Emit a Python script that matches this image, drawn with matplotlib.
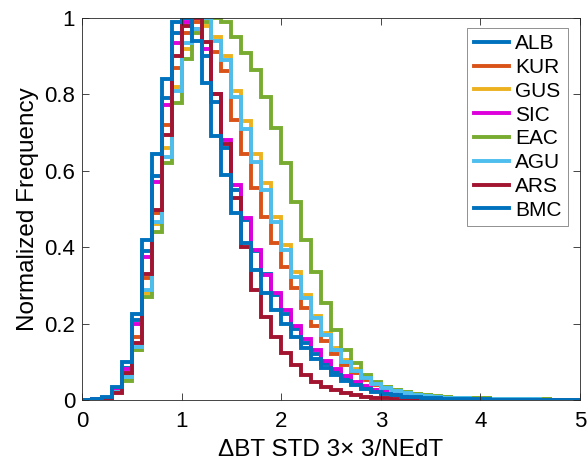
import numpy as np
import matplotlib
matplotlib.use("Agg")
import matplotlib.pyplot as plt
from matplotlib.lines import Line2D

plt.rcParams['font.family'] = ['Liberation Sans', 'DejaVu Sans']

# bin edges of the histograms (width 0.1 from 0 to 5)
edges = np.linspace(0, 5, 51)

# normalized frequency per bin
ALB = [0, 0.002, 0.006, 0.028, 0.085, 0.21, 0.39, 0.586, 0.79, 0.96,
       1.0, 0.97, 0.9, 0.78, 0.66, 0.55, 0.47, 0.39, 0.33, 0.275,
       0.225, 0.185, 0.15, 0.12, 0.095, 0.074, 0.057, 0.044, 0.033, 0.025,
       0.019, 0.014, 0.011, 0.008, 0.006, 0.005, 0.004, 0.003, 0.003, 0.002,
       0.002, 0.002, 0.001, 0.001, 0.001, 0.001, 0.001, 0.001, 0.001, 0.001]
KUR = [0, 0.001, 0.004, 0.025, 0.062, 0.165, 0.32, 0.49, 0.72, 0.87,
       0.96, 0.99, 1.0, 0.91, 0.86, 0.733, 0.645, 0.555, 0.48, 0.41,
       0.348, 0.293, 0.24, 0.195, 0.155, 0.12, 0.092, 0.07, 0.052, 0.039,
       0.029, 0.022, 0.017, 0.013, 0.01, 0.008, 0.006, 0.005, 0.004, 0.004,
       0.003, 0.003, 0.003, 0.002, 0.002, 0.002, 0.002, 0.001, 0.001, 0.001]
GUS = [0, 0.001, 0.003, 0.02, 0.058, 0.13, 0.28, 0.46, 0.66, 0.82,
       0.92, 0.97, 0.98, 0.95, 0.9, 0.81, 0.73, 0.645, 0.568, 0.48,
       0.405, 0.335, 0.275, 0.22, 0.175, 0.135, 0.105, 0.08, 0.06, 0.045,
       0.034, 0.026, 0.02, 0.015, 0.012, 0.009, 0.007, 0.006, 0.005, 0.004,
       0.004, 0.003, 0.003, 0.002, 0.002, 0.002, 0.002, 0.001, 0.001, 0.001]
SIC = [0, 0.002, 0.006, 0.03, 0.08, 0.2, 0.375, 0.571, 0.772, 0.935,
       0.99, 0.97, 0.92, 0.8, 0.68, 0.563, 0.476, 0.393, 0.327, 0.28,
       0.236, 0.195, 0.16, 0.13, 0.103, 0.08, 0.062, 0.047, 0.036, 0.027,
       0.02, 0.015, 0.011, 0.008, 0.006, 0.005, 0.004, 0.003, 0.003, 0.002,
       0.002, 0.002, 0.001, 0.001, 0.001, 0.001, 0.001, 0.001, 0.001, 0.001]
EAC = [0, 0.001, 0.003, 0.02, 0.05, 0.13, 0.27, 0.44, 0.62, 0.777,
       0.893, 0.96, 0.99, 1.0, 0.99, 0.95, 0.908, 0.864, 0.793, 0.712,
       0.62, 0.518, 0.419, 0.335, 0.254, 0.183, 0.131, 0.097, 0.065, 0.047,
       0.035, 0.027, 0.021, 0.016, 0.013, 0.01, 0.008, 0.006, 0.005, 0.004,
       0.004, 0.003, 0.003, 0.002, 0.002, 0.002, 0.002, 0.001, 0.001, 0.001]
AGU = [0, 0.001, 0.004, 0.022, 0.06, 0.14, 0.288, 0.466, 0.636, 0.81,
       0.935, 0.97, 1.0, 0.94, 0.89, 0.793, 0.71, 0.623, 0.55, 0.466,
       0.393, 0.322, 0.267, 0.215, 0.17, 0.13, 0.1, 0.076, 0.057, 0.043,
       0.032, 0.024, 0.018, 0.014, 0.011, 0.008, 0.006, 0.005, 0.004, 0.003,
       0.003, 0.003, 0.002, 0.002, 0.002, 0.002, 0.001, 0.001, 0.001, 0.001]
ARS = [0, 0.001, 0.004, 0.018, 0.07, 0.15, 0.33, 0.497, 0.694, 0.9,
       0.98, 1.0, 0.937, 0.8, 0.67, 0.53, 0.40, 0.288, 0.218, 0.165,
       0.122, 0.092, 0.065, 0.048, 0.035, 0.026, 0.019, 0.013, 0.009, 0.006,
       0.004, 0.003, 0.002, 0.002, 0.001, 0.001, 0.001, 0.001, 0.001, 0.001,
       0.001, 0.001, 0.001, 0.001, 0.001, 0.0, 0.0, 0.0, 0.0, 0.0]
BMC = [0, 0.002, 0.008, 0.035, 0.10, 0.225, 0.42, 0.645, 0.84, 0.99,
       1.0, 0.94, 0.83, 0.69, 0.59, 0.49, 0.41, 0.34, 0.28, 0.235,
       0.2, 0.165, 0.135, 0.108, 0.085, 0.066, 0.05, 0.038, 0.028, 0.021,
       0.016, 0.012, 0.009, 0.007, 0.005, 0.004, 0.003, 0.003, 0.002, 0.002,
       0.002, 0.001, 0.001, 0.001, 0.001, 0.001, 0.001, 0.001, 0.001, 0.001]

names = ['ALB', 'KUR', 'GUS', 'SIC', 'EAC', 'AGU', 'ARS', 'BMC']
series = [ALB, KUR, GUS, SIC, EAC, AGU, ARS, BMC]
colors = ['#0072BD', '#D95319', '#EDB120', '#DD00DD',
          '#77AC30', '#4DBEEE', '#A2142F', '#0072BD']

fig = plt.figure(figsize=(5.87, 4.63), dpi=100)
ax = fig.add_axes([82 / 587, 63 / 463, 498 / 587, 382 / 463])

for vals, c in zip(series, colors):
    ax.stairs(vals, edges, color=c, linewidth=2.8, baseline=0)

ax.set_xlim(0, 5)
ax.set_ylim(0, 1)
ax.set_xticks(range(0, 6))
ax.set_yticks([0, 0.2, 0.4, 0.6, 0.8, 1])
ax.set_yticklabels(['0', '0.2', '0.4', '0.6', '0.8', '1'])
ax.tick_params(direction='in', top=True, right=True, labelsize=16,
               length=5, width=0.6, color='#262626', pad=5)
ax.tick_params(axis='x', pad=8)
for sp in ax.spines.values():
    sp.set_color('#262626')
    sp.set_linewidth(0.6)

ax.set_xlabel('ΔBT STD 3× 3/NEdT', fontsize=17.5, labelpad=5)
ax.set_ylabel('Normalized Frequency', fontsize=17.5, labelpad=4)

handles = [Line2D([], [], color=c, linewidth=2.8) for c in colors]
leg = ax.legend(handles, names, loc='upper right', fontsize=15,
                handlelength=1.7, handletextpad=0.3, labelspacing=0.23,
                borderpad=0.3, borderaxespad=0, fancybox=False, framealpha=1,
                edgecolor='#7f7f7f', bbox_to_anchor=(0.976, 0.974))
leg.get_frame().set_linewidth(0.6)

fig.savefig('out.png', dpi=100)
